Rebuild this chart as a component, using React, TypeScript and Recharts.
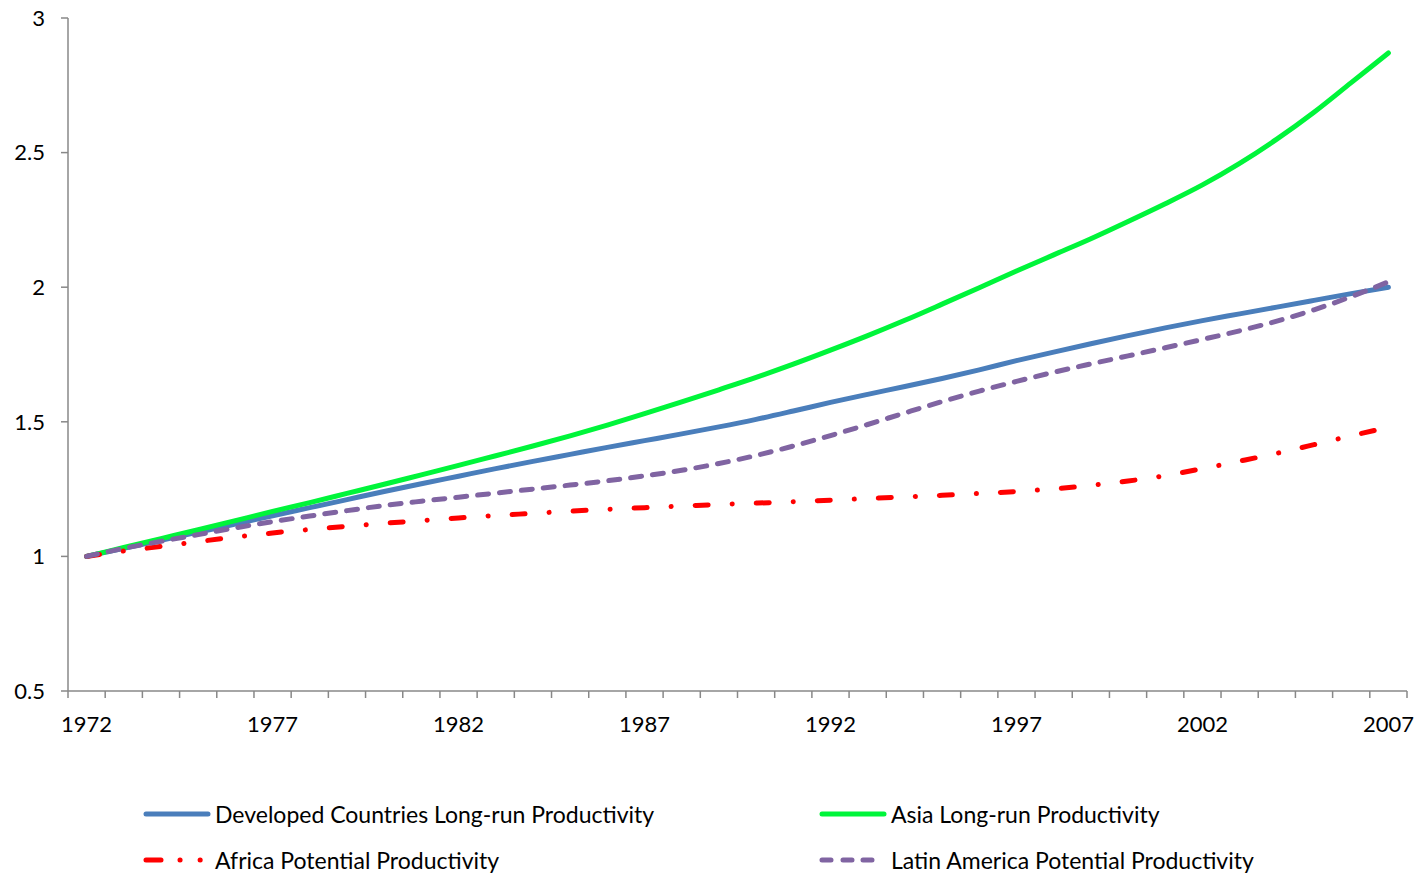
import React from "react";
import { LineChart, Line, XAxis, YAxis, Legend } from "recharts";

const years = [
  1972, 1973, 1974, 1975, 1976, 1977, 1978, 1979, 1980, 1981, 1982, 1983,
  1984, 1985, 1986, 1987, 1988, 1989, 1990, 1991, 1992, 1993, 1994, 1995,
  1996, 1997, 1998, 1999, 2000, 2001, 2002, 2003, 2004, 2005, 2006, 2007,
];

const developed = [
  1.0, 1.03, 1.06, 1.09, 1.12, 1.151, 1.181, 1.211, 1.241, 1.27, 1.298, 1.326,
  1.353, 1.379, 1.405, 1.43, 1.455, 1.481, 1.509, 1.54, 1.572, 1.602, 1.631, 1.661,
  1.693, 1.727, 1.759, 1.79, 1.82, 1.849, 1.876, 1.901, 1.926, 1.951, 1.976, 2.0,
];

const asia = [
  1.0, 1.033, 1.066, 1.099, 1.133, 1.167, 1.2, 1.234, 1.268, 1.303, 1.338, 1.374,
  1.41, 1.448, 1.488, 1.53, 1.574, 1.619, 1.665, 1.714, 1.766, 1.82, 1.877, 1.937,
  1.998, 2.06, 2.12, 2.18, 2.244, 2.31, 2.38, 2.46, 2.55, 2.65, 2.76, 2.87,
];

const africa = [
  1.0, 1.02, 1.037, 1.055, 1.072, 1.087, 1.1, 1.112, 1.123, 1.133, 1.143, 1.152,
  1.16, 1.168, 1.175, 1.181, 1.187, 1.193, 1.198, 1.203, 1.209, 1.215, 1.221, 1.227,
  1.234, 1.241, 1.251, 1.264, 1.28, 1.3, 1.326, 1.354, 1.383, 1.415, 1.448, 1.48,
];

const latam = [
  1.0, 1.03, 1.056, 1.081, 1.106, 1.129, 1.15, 1.17, 1.189, 1.205, 1.22, 1.235,
  1.25, 1.265, 1.281, 1.299, 1.32, 1.345, 1.375, 1.41, 1.449, 1.49, 1.533, 1.575,
  1.614, 1.65, 1.684, 1.715, 1.745, 1.775, 1.806, 1.838, 1.874, 1.916, 1.965, 2.02,
];

const yTicks = [0.5, 1, 1.5, 2, 2.5, 3];
const labelEvery = 5;

const data = years.map((year, i) => ({
  year,
  developed: developed[i],
  asia: asia[i],
  africa: africa[i],
  latam: latam[i],
}));

// tick marks sit between the years, like Excel's category axis
const tickMarks = [...years.map((y) => y - 0.5), years[years.length - 1] + 0.5];

const W = 1422;
const H = 875;
const LEFT = 68;
const RIGHT = 15;
const HALF = (W - LEFT - RIGHT) / years.length / 2;
const FONT = "Lato, 'Open Sans', sans-serif";

const series = [
  { key: "developed", name: "Developed Countries Long-run Productivity", color: "#4a7ebb", dash: undefined, legendDash: undefined },
  { key: "asia", name: "Asia Long-run Productivity", color: "#00f53a", dash: undefined, legendDash: undefined },
  { key: "africa", name: "Africa Potential Productivity", color: "#ff0000", dash: "13 24 0.1 24", legendDash: "15 19 0.1 20 0.1 100" },
  { key: "latam", name: "Latin America Potential Productivity", color: "#8064a2", dash: "11 11", legendDash: "9 12 9 11 9 100" },
];

const XTick = (props: any) => {
  const { x, y, payload } = props;
  const label = payload.value + 0.5;
  if ((label - years[0]) % labelEvery !== 0) return <g />;
  return (
    <text x={x + HALF} y={y} dy="0.71em" textAnchor="middle" fill="#000" fontSize={22} fontFamily={FONT}>
      {label}
    </text>
  );
};

const LegendBox = () => {
  const cols = [143, 819];
  const rows = [59, 105];
  return (
    <div style={{ position: "relative", width: W, height: 120, fontFamily: FONT, fontSize: 23, color: "#000" }}>
      {series.map((s, i) => {
        const left = cols[i % 2];
        const top = rows[Math.floor(i / 2)];
        return (
          <div key={s.key} style={{ position: "absolute", left, top: top - 15, height: 30, display: "flex", alignItems: "center", whiteSpace: "nowrap" }}>
            <svg width={68} height={30} style={{ marginRight: 4 }}>
              <line x1={3} y1={15} x2={65} y2={15} stroke={s.color} strokeWidth={5} strokeLinecap="round" strokeDasharray={s.legendDash} />
            </svg>
            <span>{s.name}</span>
          </div>
        );
      })}
    </div>
  );
};

export default function App() {
  return (
    <div style={{ position: "absolute", left: 0, top: 0, width: W, height: H, background: "#fff" }}>
      <LineChart width={W} height={H} data={data} margin={{ top: 18, right: RIGHT, bottom: 0, left: 0 }}>
        <XAxis
          dataKey="year"
          type="number"
          domain={[tickMarks[0], tickMarks[tickMarks.length - 1]]}
          ticks={tickMarks}
          interval={0}
          tick={<XTick />}
          tickSize={7}
          tickMargin={18}
          height={64}
          stroke="#888"
          strokeWidth={1.5}
        />
        <YAxis
          type="number"
          domain={[0.5, 3]}
          ticks={yTicks}
          interval={0}
          width={LEFT}
          tickSize={7}
          tickMargin={16}
          stroke="#888"
          strokeWidth={1.5}
          tick={{ fill: "#000", fontSize: 22, fontFamily: FONT }}
        />
        <Legend
          verticalAlign="bottom"
          content={<LegendBox />}
          wrapperStyle={{ left: 0, bottom: 0, width: W, height: 120 }}
        />
        {series.map((s) => (
          <Line
            key={s.key}
            dataKey={s.key}
            name={s.name}
            type="monotone"
            stroke={s.color}
            strokeWidth={5}
            strokeDasharray={s.dash}
            strokeLinecap="round"
            dot={false}
            activeDot={false}
            isAnimationActive={false}
          />
        ))}
      </LineChart>
    </div>
  );
}
